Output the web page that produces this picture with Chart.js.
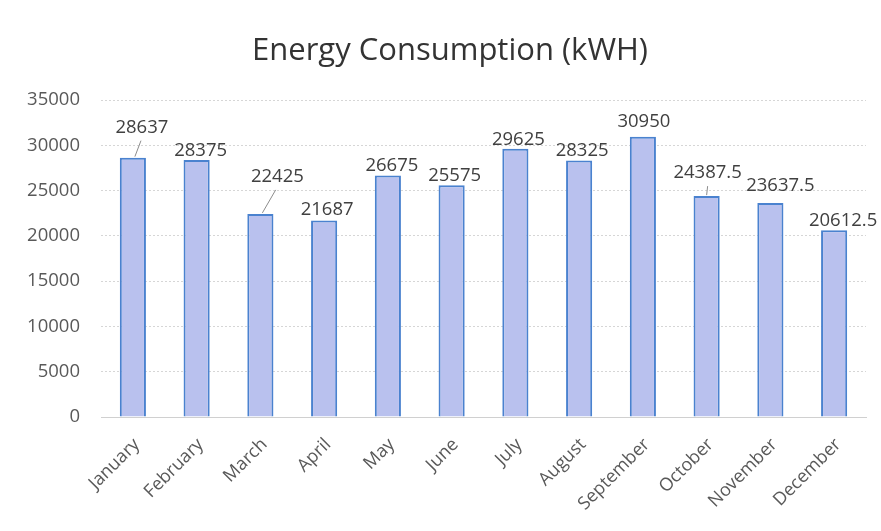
<!DOCTYPE html>
<html>
<head>
<meta charset="utf-8">
<script src="https://cdn.jsdelivr.net/npm/chart.js@4"></script>
<style>
html,body{margin:0;padding:0;background:#fff;}
#wrap{width:881px;height:531px;}
</style>
</head>
<body>
<div id="wrap"><canvas id="c" width="881" height="531"></canvas></div>
<script>
const months = ["January","February","March","April","May","June","July","August","September","October","November","December"];
const consumption = [28637, 28375, 22425, 21687, 26675, 25575, 29625, 28325, 30950, 24387.5, 23637.5, 20612.5];
const yTicks = [0, 5000, 10000, 15000, 20000, 25000, 30000, 35000];
const chartTitle = 'Energy Consumption (kWH)';

// label placement relative to bar top (dx, dy in px) and whether a leader line is drawn
const labelPlacement = [
  {dx: 9, dy: -33, leader: true},
  {dx: 4, dy: -12},
  {dx: 17, dy: -40, leader: true},
  {dx: 3, dy: -14},
  {dx: 4, dy: -12},
  {dx: 3, dy: -12},
  {dx: 3, dy: -12},
  {dx: 3, dy: -12},
  {dx: 1, dy: -18},
  {dx: 1, dy: -26, leader: true},
  {dx: 10, dy: -20},
  {dx: 9, dy: -12}
];

const dataLabels = {
  id: 'dataLabels',
  afterDatasetsDraw(chart) {
    const ctx = chart.ctx;
    const meta = chart.getDatasetMeta(0);
    ctx.save();
    ctx.font = '18.5px "Open Sans"';
    ctx.fillStyle = '#404040';
    ctx.textAlign = 'center';
    ctx.textBaseline = 'bottom';
    meta.data.forEach((bar, i) => {
      const p = labelPlacement[i];
      const x = bar.x + p.dx;
      const y = bar.y + p.dy;
      const v = consumption[i];
      ctx.fillText(String(v), x, y + 12);
      if (p.leader) {
        ctx.strokeStyle = '#8c8c8c';
        ctx.lineWidth = 1;
        ctx.beginPath();
        ctx.moveTo(bar.x + (p.dx > 3 ? 2 : 0), bar.y - 1);
        ctx.lineTo(bar.x + p.dx * (p.dx > 3 ? 0.9 : 1), y + 16);
        ctx.stroke();
      }
    });
    // chart title
    ctx.font = '31px "Open Sans"';
    ctx.fillStyle = '#333333';
    ctx.textBaseline = 'middle';
    ctx.fillText(chartTitle, 450, 51);
    ctx.restore();
  }
};

new Chart(document.getElementById('c'), {
  type: 'bar',
  data: {
    labels: months,
    datasets: [{
      data: consumption,
      backgroundColor: '#b9c1ee',
      borderColor: '#4a82cf',
      borderWidth: 2,
      borderSkipped: 'bottom',
      barPercentage: 0.82,
      categoryPercentage: 0.5
    }]
  },
  options: {
    responsive: false,
    animation: false,
    layout: {padding: {left: 0, right: 15, top: 100, bottom: 0}},
    plugins: {
      legend: {display: false},
      tooltip: {enabled: false},
      title: {display: false}
    },
    scales: {
      x: {
        grid: {display: false, drawTicks: false},
        border: {display: true, color: '#d0d0d0', dash: [2, 2]},
        ticks: {
          color: '#595959',
          font: {family: '"Open Sans"', size: 18},
          maxRotation: 45, minRotation: 45,
          padding: 17,
          labelOffset: 4
        },
        afterFit(scale) { scale.height = 114; }
      },
      y: {
        min: 0, max: 35000,
        afterBuildTicks(scale) { scale.ticks = yTicks.map(v => ({value: v})); },
        grid: {color: '#d6d6d6', drawTicks: false},
        border: {display: false, dash: [2, 2]},
        ticks: {
          color: '#595959',
          font: {family: '"Open Sans"', size: 18.5},
          padding: 21,
          callback: (v) => String(v)
        },
        afterFit(scale) { scale.width = 101; }
      }
    }
  },
  plugins: [dataLabels]
});
</script>
</body>
</html>
